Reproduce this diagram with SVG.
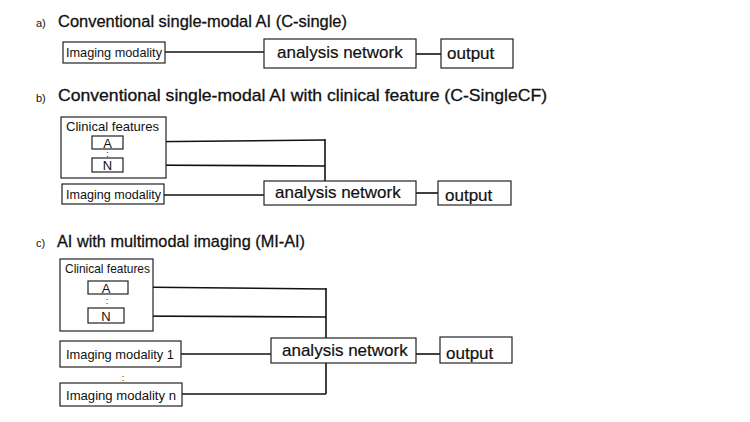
<svg xmlns="http://www.w3.org/2000/svg" width="750" height="422" viewBox="0 0 750 422">
<style>
.box{fill:#fff;stroke:#222;stroke-width:1.2}
.ln{fill:none;stroke:#111;stroke-width:1.6}
.t{font-family:"Liberation Sans",Arial,sans-serif;fill:#111}
.title{font-size:17px;stroke:#111;stroke-width:0.3}
.lab{font-size:11px}
.sm{font-size:13px}
.dot{font-size:9px}
.big{font-size:17px;stroke:#111;stroke-width:0.2}
</style>
<rect width="750" height="422" fill="#fff"/>
<g id="titles">
<text class="t lab" x="36" y="27">a)</text>
<text class="t title" x="58" y="27" textLength="289" lengthAdjust="spacingAndGlyphs">Conventional single-modal AI (C-single)</text>
<text class="t lab" x="36" y="102">b)</text>
<text class="t title" x="58" y="101" textLength="489" lengthAdjust="spacingAndGlyphs">Conventional single-modal AI with clinical feature (C-SingleCF)</text>
<text class="t lab" x="36" y="247">c)</text>
<text class="t title" x="57" y="247" textLength="248" lengthAdjust="spacingAndGlyphs">AI with multimodal imaging (MI-AI)</text>
</g>
<g id="connectors">
<line class="ln" x1="165" y1="52" x2="264" y2="52"/>
<line class="ln" x1="416" y1="54" x2="441" y2="54"/>
<path class="ln" d="M123 142 L325 140"/>
<path class="ln" d="M123 165 L325 166"/>
<line class="ln" x1="325" y1="139" x2="325" y2="181"/>
<line class="ln" x1="164" y1="195" x2="264" y2="195"/>
<line class="ln" x1="416" y1="193" x2="438" y2="193"/>
<path class="ln" d="M128 287 L326 289"/>
<line class="ln" x1="124" y1="316" x2="326" y2="317"/>
<line class="ln" x1="326" y1="288" x2="326" y2="338"/>
<line class="ln" x1="181" y1="354" x2="271" y2="354"/>
<line class="ln" x1="326" y1="363" x2="326" y2="394"/>
<line class="ln" x1="182" y1="394" x2="326" y2="394"/>
<line class="ln" x1="416" y1="354" x2="440" y2="354"/>
</g>
<g id="a-imaging"><rect class="box" x="63" y="42" width="102" height="21"/><text class="t sm" x="66" y="57" textLength="96" lengthAdjust="spacingAndGlyphs">Imaging modality</text></g>
<g id="a-analysis"><rect class="box" x="264" y="39" width="152" height="29"/><text class="t big" x="277" y="58">analysis network</text></g>
<g id="a-output"><rect class="box" x="441" y="39" width="72" height="29"/><text class="t big" x="447" y="59">output</text></g>

<g id="b-clinical"><rect class="box" x="61" y="117" width="105" height="61"/><text class="t sm" x="66" y="131" textLength="93" lengthAdjust="spacingAndGlyphs">Clinical features</text></g>
<g id="b-A"><rect class="box" x="92" y="136" width="31" height="13"/><text class="t sm" x="107.5" y="148" text-anchor="middle">A</text></g>
<g id="b-dots"><text class="t dot" x="107.5" y="157" text-anchor="middle">:</text></g>
<g id="b-N"><rect class="box" x="92" y="158" width="31" height="14"/><text class="t sm" x="107.5" y="170" text-anchor="middle">N</text></g>
<g id="b-imaging"><rect class="box" x="62" y="184" width="102" height="20"/><text class="t sm" x="66" y="199" textLength="95" lengthAdjust="spacingAndGlyphs">Imaging modality</text></g>
<g id="b-analysis"><rect class="box" x="264" y="181" width="152" height="24"/><text class="t big" x="275" y="198">analysis network</text></g>
<g id="b-output"><rect class="box" x="438" y="181" width="73" height="24"/><text class="t big" x="445" y="201">output</text></g>

<g id="c-clinical"><rect class="box" x="60" y="259" width="93" height="72"/><text class="t sm" x="65" y="273" textLength="85" lengthAdjust="spacingAndGlyphs">Clinical features</text></g>
<g id="c-A"><rect class="box" x="88" y="281" width="40" height="13"/><text class="t sm" x="106" y="293" text-anchor="middle">A</text></g>
<g id="c-dots"><text class="t dot" x="107" y="304" text-anchor="middle">:</text></g>
<g id="c-N"><rect class="box" x="88" y="308" width="36" height="15"/><text class="t sm" x="106" y="321" text-anchor="middle">N</text></g>
<g id="c-imaging1"><rect class="box" x="60" y="341" width="121" height="26"/><text class="t sm" x="66" y="359" textLength="108" lengthAdjust="spacingAndGlyphs">Imaging modality 1</text></g>
<g id="c-dots2"><text class="t dot" x="123" y="381" text-anchor="middle">:</text></g>
<g id="c-imagingn"><rect class="box" x="60" y="383" width="122" height="23"/><text class="t sm" x="66" y="400" textLength="110" lengthAdjust="spacingAndGlyphs">Imaging modality n</text></g>
<g id="c-analysis"><rect class="box" x="271" y="338" width="145" height="25"/><text class="t big" x="282" y="356">analysis network</text></g>
<g id="c-output"><rect class="box" x="440" y="337" width="72" height="26"/><text class="t big" x="446" y="359">output</text></g>
</svg>
